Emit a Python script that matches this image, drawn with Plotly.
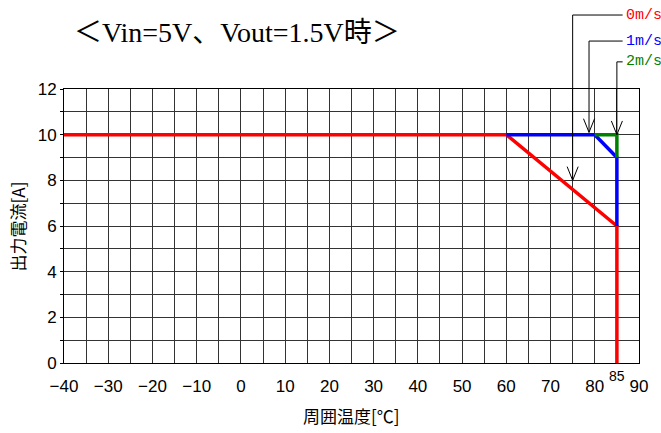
import plotly.graph_objects as go

# ---- data ----
temps_red = [-40, 60, 85, 85]
current_red = [10, 10, 6, 0]
temps_blue = [60, 80, 85, 85]
current_blue = [10, 10, 9, 6]
temps_green = [80, 85, 85]
current_green = [10, 10, 9]

arrow_labels = ["0m/s", "1m/s", "2m/s"]
arrow_x = [75, 78.7, 85]
arrow_tip_y = [8.0, 10.1, 10.0]

x_tick_vals = [-40, -30, -20, -10, 0, 10, 20, 30, 40, 50, 60, 70, 80, 90]
y_tick_vals = [0, 2, 4, 6, 8, 10, 12]

title_text = "＜Vin=5V、Vout=1.5V時＞"
x_title = "周囲温度[℃]"
y_title = "出力電流[A]"
extra_tick = 85

# ---- styles ----
colors = ["#ff0000", "#0000ff", "#008000"]
label_row_paper_y = [1.270, 1.175, 1.099]
label_x_data = 86.5
line_end_x_data = 86.3
YMAX = 12.0
V_HALF_W = 1.25   # x units
V_H = 0.05        # paper units

fig = go.Figure()
for xs, ys, c in [(temps_red, current_red, colors[0]),
                  (temps_blue, current_blue, colors[1]),
                  (temps_green, current_green, colors[2])]:
    fig.add_trace(go.Scatter(x=xs, y=ys, mode="lines",
                             line=dict(color=c, width=3.5),
                             showlegend=False, hoverinfo="skip"))

shapes = []
annotations = []
for lab, ax, ty, c, ry in zip(arrow_labels, arrow_x, arrow_tip_y, colors, label_row_paper_y):
    tip = ty / YMAX
    shapes.append(dict(type="path", xref="x", yref="paper",
                       path=f"M {ax},{tip} L {ax},{ry} L {line_end_x_data},{ry}",
                       line=dict(color="#000000", width=1)))
    shapes.append(dict(type="path", xref="x", yref="paper",
                       path=f"M {ax-V_HALF_W},{tip+V_H} L {ax},{tip} L {ax+V_HALF_W},{tip+V_H}",
                       line=dict(color="#000000", width=1)))
    annotations.append(dict(x=label_x_data, y=ry, xref="x", yref="paper",
                            text=lab, showarrow=False, xanchor="left", yanchor="middle",
                            font=dict(family="Liberation Mono", size=15, color=c)))

annotations.append(dict(x=0.300, y=1.207, xref="paper", yref="paper", text=title_text,
                        showarrow=False, xanchor="center", yanchor="middle",
                        font=dict(family="Liberation Serif, Noto Sans CJK JP", size=28, color="#000")))
annotations.append(dict(x=extra_tick, y=-0.048, xref="x", yref="paper", text=str(extra_tick),
                        showarrow=False, xanchor="center", yanchor="middle",
                        font=dict(family="Liberation Sans, Arial", size=14, color="#000")))
annotations.append(dict(x=0.5, y=-0.19, xref="paper", yref="paper", text=x_title,
                        showarrow=False, xanchor="center", yanchor="middle",
                        font=dict(family="Noto Sans CJK JP", size=17, color="#000")))
annotations.append(dict(x=-0.081, y=0.5, xref="paper", yref="paper", text=y_title,
                        showarrow=False, xanchor="center", yanchor="middle", textangle=-90,
                        font=dict(family="Noto Sans CJK JP", size=17, color="#000")))

fig.update_layout(
    width=661, height=433,
    margin=dict(l=64, r=22, t=89, b=70),
    paper_bgcolor="white", plot_bgcolor="white",
    shapes=shapes, annotations=annotations,
    font=dict(family="Liberation Sans, Arial", size=17, color="#000"),
)
fig.update_xaxes(range=[-40, 90], tickvals=x_tick_vals, showgrid=True,
                 gridcolor="#333", gridwidth=1,
                 minor=dict(dtick=5, tick0=0, showgrid=True, gridcolor="#333", gridwidth=1),
                 showline=True, linecolor="#000", linewidth=1, mirror=True,
                 zeroline=False, ticks="", ticklabelstandoff=8,
                 tickfont=dict(size=17))
fig.update_yaxes(range=[0, 12], tickvals=y_tick_vals, showgrid=True,
                 gridcolor="#333", gridwidth=1,
                 minor=dict(dtick=1, tick0=0, showgrid=True, gridcolor="#333", gridwidth=1,
                            ticks="outside", ticklen=3, tickcolor="#000"),
                 showline=True, linecolor="#000", linewidth=1, mirror=True,
                 zeroline=False, ticks="outside", ticklen=3, tickcolor="#000",
                 tickfont=dict(size=17))

fig.write_html("out.html", config={"displayModeBar": False})

# remove the default 8px body margin so the figure sits at the page corner
with open("out.html", "r", encoding="utf-8") as f:
    html = f.read()
html = html.replace("<body>", '<body style="margin:0;padding:0;overflow:hidden;">', 1)
with open("out.html", "w", encoding="utf-8") as f:
    f.write(html)
